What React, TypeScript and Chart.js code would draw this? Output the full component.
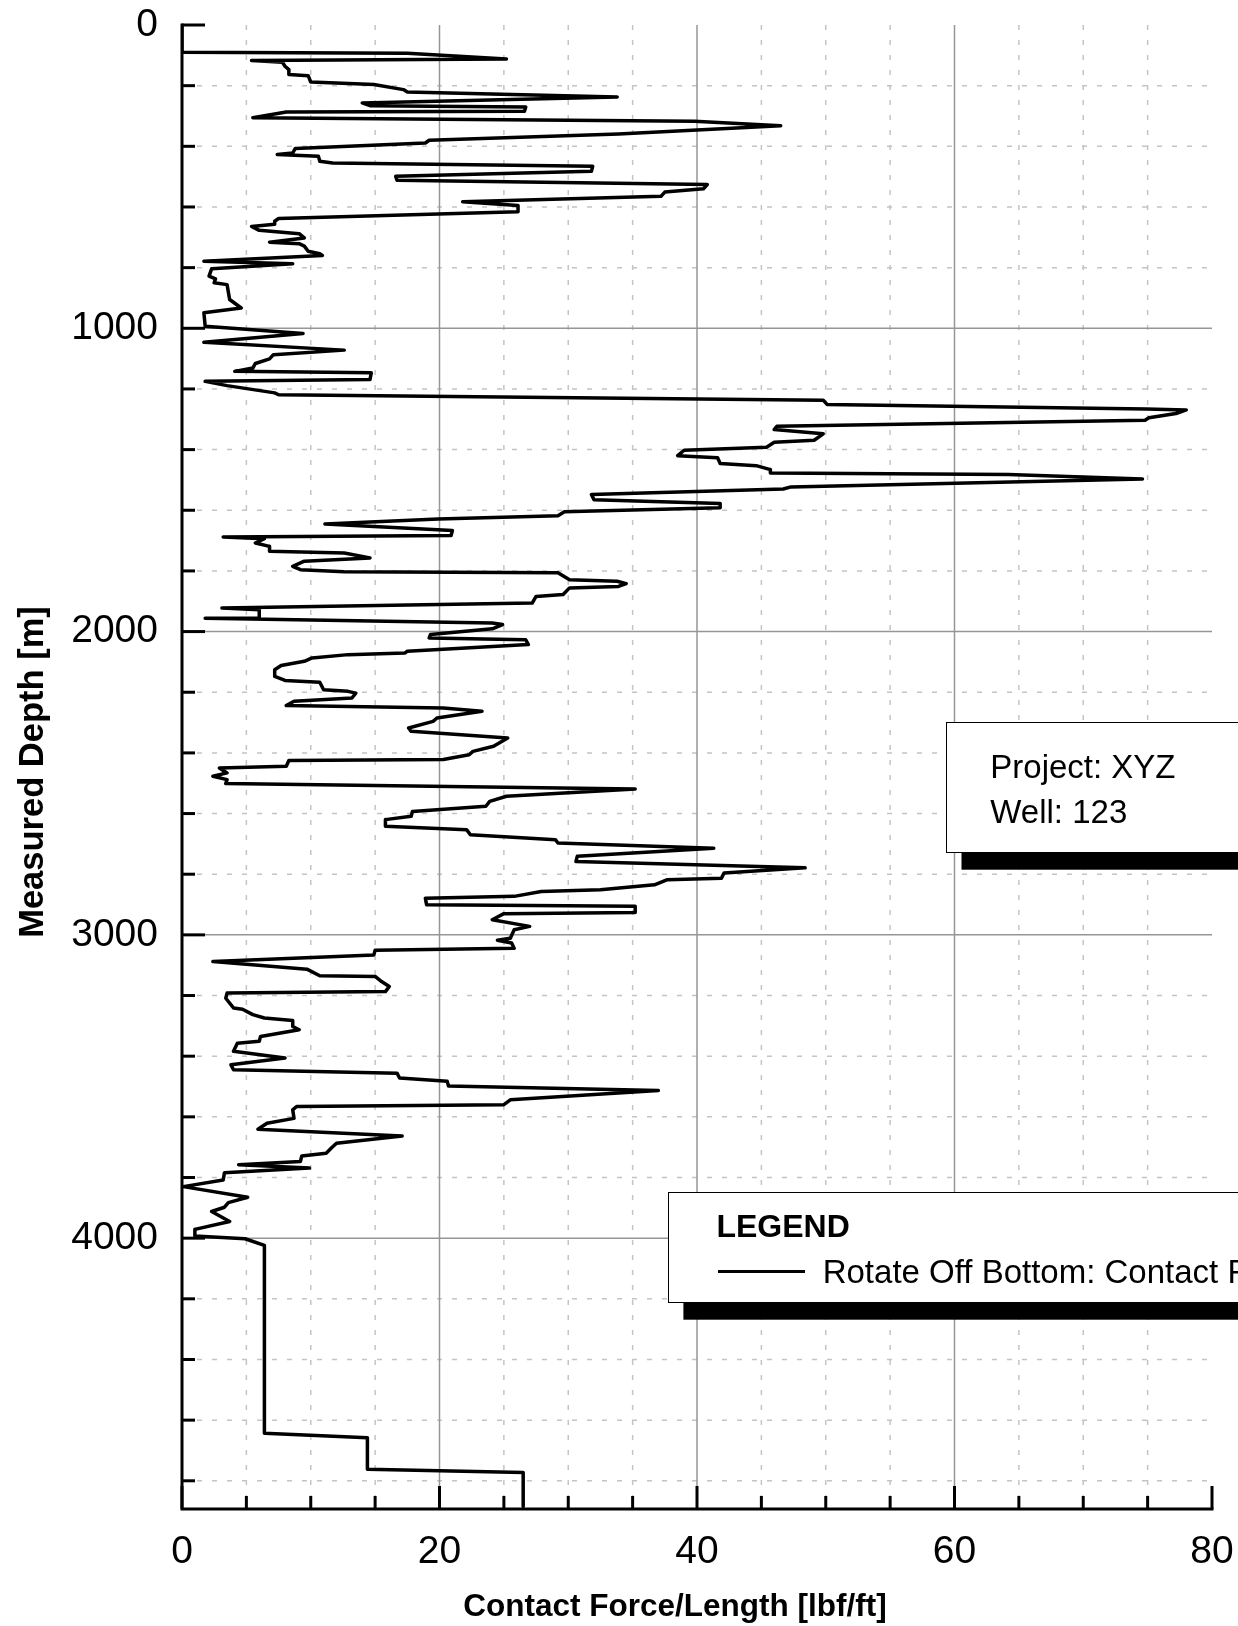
import React, { useEffect, useRef } from "react";
import { Chart, registerables } from "chart.js";

Chart.register(...registerables);

// ---- data ----
const DEPTH_M: number[] = [
  0, 90, 93, 112, 117, 123, 136, 147, 163, 167, 188, 196, 213, 221, 237, 257, 266, 270, 284, 287,
  306, 317, 332, 359, 380, 389, 407, 422, 427, 433, 449, 455, 466, 482, 499, 512, 526, 540, 551, 565,
  583, 595, 616, 638, 647, 657, 664, 677, 688, 702, 716, 721, 729, 746, 754, 760, 779, 787, 804, 828,
  837, 850, 856, 905, 933, 949, 993, 1017, 1046, 1072, 1087, 1101, 1116, 1131, 1142, 1147, 1169, 1175, 1189, 1213,
  1219, 1237, 1251, 1266, 1269, 1281, 1295, 1303, 1323, 1334, 1348, 1369, 1376, 1392, 1402, 1420, 1427, 1446, 1453, 1466,
  1477, 1482, 1497, 1523, 1530, 1548, 1565, 1578, 1592, 1605, 1618, 1629, 1645, 1667, 1683, 1688, 1694, 1708, 1719, 1735,
  1741, 1757, 1768, 1785, 1796, 1803, 1806, 1829, 1834, 1842, 1851, 1856, 1878, 1884, 1906, 1922, 1928, 1955, 1956, 1972,
  1977, 1991, 2010, 2021, 2027, 2043, 2065, 2071, 2076, 2087, 2098, 2112, 2126, 2148, 2161, 2167, 2192, 2197, 2203, 2219,
  2230, 2244, 2252, 2263, 2285, 2296, 2318, 2329, 2351, 2378, 2395, 2406, 2422, 2425, 2444, 2450, 2466, 2477, 2488, 2501,
  2519, 2543, 2560, 2576, 2593, 2609, 2620, 2642, 2653, 2670, 2686, 2697, 2714, 2741, 2758, 2779, 2796, 2813, 2818, 2835,
  2851, 2857, 2873, 2879, 2901, 2906, 2926, 2930, 2950, 2972, 2983, 3011, 3018, 3027, 3044, 3051, 3066, 3088, 3113, 3135,
  3137, 3154, 3170, 3187, 3192, 3209, 3241, 3245, 3263, 3274, 3282, 3302, 3313, 3335, 3351, 3357, 3384, 3406, 3428, 3445,
  3456, 3472, 3483, 3498, 3513, 3544, 3560, 3566, 3577, 3605, 3621, 3641, 3663, 3687, 3703, 3720, 3729, 3747, 3758, 3769,
  3784, 3808, 3830, 3865, 3883, 3898, 3912, 3945, 3971, 3993, 4002, 4024, 4643, 4658, 4762, 4773, 4885,
];

const FORCE_LBF_FT: number[] = [
  0, 0, 17.5, 25.2, 5.4, 7.8, 8.0, 8.3, 8.3, 9.8, 10.0, 14.9, 17.2, 17.5, 33.8, 14.0, 14.6, 26.7, 26.6, 8.1,
  5.5, 39.8, 46.5, 33.9, 19.2, 18.9, 8.8, 8.6, 7.4, 10.6, 10.7, 11.7, 31.9, 31.8, 16.6, 16.7, 40.8, 40.5, 37.5, 37.2,
  21.8, 26.1, 26.1, 7.5, 7.2, 7.2, 5.4, 6.0, 9.1, 9.5, 6.8, 9.1, 9.5, 9.8, 10.7, 10.9, 1.7, 8.6, 2.3, 2.1,
  2.6, 2.5, 3.5, 3.7, 4.6, 1.7, 1.8, 9.4, 1.7, 12.6, 7.1, 6.8, 5.7, 5.5, 4.1, 14.7, 14.6, 1.8, 3.5, 7.2,
  7.5, 49.8, 50.1, 74.9, 78.0, 77.2, 75.1, 74.8, 46.2, 46.0, 49.8, 49.1, 46.0, 45.4, 39.0, 38.5, 41.6, 41.8, 44.6, 45.7,
  45.7, 64.2, 74.6, 47.3, 46.7, 31.8, 32.0, 41.8, 41.8, 29.7, 29.2, 19.9, 11.1, 21.0, 20.9, 3.2, 6.4, 5.7, 6.8, 6.8,
  12.6, 14.6, 9.5, 8.6, 9.2, 12.6, 29.2, 30.1, 33.8, 34.5, 33.9, 30.1, 29.6, 27.5, 27.2, 3.1, 6.0, 6.0, 1.8, 24.1,
  24.9, 24.1, 19.3, 19.2, 26.7, 26.9, 17.5, 17.3, 12.9, 10.1, 9.5, 7.7, 7.2, 7.2, 8.0, 10.7, 11.0, 12.9, 13.5, 13.2,
  8.7, 8.1, 20.3, 23.3, 19.8, 19.5, 17.6, 17.8, 25.3, 24.2, 22.6, 22.3, 20.3, 8.3, 8.1, 2.9, 3.5, 2.4, 3.5, 3.4,
  35.2, 25.2, 23.9, 23.6, 17.9, 17.8, 15.8, 15.8, 22.1, 22.4, 29.0, 29.2, 41.3, 30.7, 30.6, 48.4, 42.1, 41.9, 37.7, 36.7,
  32.5, 27.9, 25.8, 18.9, 19.0, 35.2, 35.2, 25.0, 24.1, 27.0, 25.8, 25.5, 24.5, 25.6, 25.8, 15.0, 14.9, 2.4, 9.7, 10.7,
  15.0, 15.5, 16.1, 15.8, 3.5, 3.4, 4.0, 4.7, 5.5, 6.4, 8.6, 8.6, 9.1, 6.1, 6.0, 4.3, 4.0, 8.0, 3.8, 4.0,
  16.7, 16.9, 20.6, 20.7, 37.0, 25.5, 25.0, 8.9, 8.6, 8.7, 6.6, 5.9, 17.1, 12.0, 11.6, 11.2, 9.3, 9.2, 4.4, 9.9,
  3.3, 3.2, 0.1, 5.1, 3.6, 3.3, 2.3, 3.7, 1.0, 1.0, 4.9, 6.4, 6.4, 14.4, 14.4, 26.5, 26.5,
];

const X_TICKS: number[] = [0, 20, 40, 60, 80];
const Y_TICKS: number[] = [0, 1000, 2000, 3000, 4000];
const X_MINOR_STEP = 5;
const Y_MINOR_STEP = 200;
const X_MAX = 80;
const Y_MAX = 4893;

const X_TITLE = "Contact Force/Length [lbf/ft]";
const Y_TITLE = "Measured Depth [m]";
const INFO_LINES: string[] = ["Project: XYZ", "Well: 123"];
const LEGEND_TITLE = "LEGEND";
const SERIES_LABEL = "Rotate Off Bottom: Contact Force/Length";

const FONT = '"Liberation Sans", Arial, Helvetica, sans-serif';
const W = 1238;
const H = 1626;

const framePlugin = {
  id: "wellFrame",
  beforeDatasetsDraw(chart: any) {
    const { ctx } = chart;
    const x = chart.scales.x;
    const y = chart.scales.y;
    const left = x.getPixelForValue(0);
    const right = x.getPixelForValue(X_MAX);
    const top = y.getPixelForValue(0);
    const bottom = y.getPixelForValue(Y_MAX);
    ctx.save();
    ctx.setLineDash([5, 10]);
    ctx.strokeStyle = "#c4c4c4";
    ctx.lineWidth = 1.5;
    for (let v = X_MINOR_STEP; v < X_MAX; v += X_MINOR_STEP) {
      if (X_TICKS.includes(v)) continue;
      const px = x.getPixelForValue(v);
      ctx.beginPath();
      ctx.moveTo(px, top);
      ctx.lineTo(px, bottom);
      ctx.stroke();
    }
    for (let d = Y_MINOR_STEP; d < Y_MAX; d += Y_MINOR_STEP) {
      if (Y_TICKS.includes(d)) continue;
      const py = y.getPixelForValue(d);
      ctx.beginPath();
      ctx.moveTo(left, py);
      ctx.lineTo(right, py);
      ctx.stroke();
    }
    ctx.setLineDash([]);
    ctx.strokeStyle = "#969696";
    ctx.lineWidth = 1.5;
    for (const v of X_TICKS) {
      if (v === 0 || v === X_MAX) continue;
      const px = x.getPixelForValue(v);
      ctx.beginPath();
      ctx.moveTo(px, top);
      ctx.lineTo(px, bottom);
      ctx.stroke();
    }
    for (const d of Y_TICKS) {
      if (d === 0) continue;
      const py = y.getPixelForValue(d);
      ctx.beginPath();
      ctx.moveTo(left, py);
      ctx.lineTo(right, py);
      ctx.stroke();
    }
    ctx.restore();
  },
  afterDatasetsDraw(chart: any) {
    const { ctx } = chart;
    const x = chart.scales.x;
    const y = chart.scales.y;
    const left = x.getPixelForValue(0);
    const right = x.getPixelForValue(X_MAX);
    const top = y.getPixelForValue(0);
    const bottom = y.getPixelForValue(Y_MAX);
    ctx.save();
    ctx.strokeStyle = "#000";
    ctx.lineWidth = 3;
    ctx.lineCap = "butt";
    ctx.beginPath();
    ctx.moveTo(left, top - 1.5);
    ctx.lineTo(left, bottom + 1.5);
    ctx.moveTo(left - 1.5, bottom);
    ctx.lineTo(right + 1.5, bottom);
    ctx.stroke();
    for (let d = 0; d < Y_MAX; d += Y_MINOR_STEP) {
      const len = Y_TICKS.includes(d) ? 23 : 13;
      const py = y.getPixelForValue(d);
      ctx.beginPath();
      ctx.moveTo(left, py);
      ctx.lineTo(left + len, py);
      ctx.stroke();
    }
    for (let v = 0; v <= X_MAX; v += X_MINOR_STEP) {
      const len = X_TICKS.includes(v) ? 23 : 13;
      const px = x.getPixelForValue(v);
      ctx.beginPath();
      ctx.moveTo(px, bottom);
      ctx.lineTo(px, bottom - len);
      ctx.stroke();
    }
    ctx.restore();
  },
  afterDraw(chart: any) {
    const { ctx } = chart;
    ctx.save();
    ctx.fillStyle = "#000";
    ctx.textAlign = "center";
    ctx.textBaseline = "alphabetic";
    ctx.font = `bold 31.5px ${FONT}`;
    ctx.fillText(X_TITLE, 675, 1616);
    ctx.font = `bold 34.5px ${FONT}`;
    ctx.translate(43, 772);
    ctx.rotate(-Math.PI / 2);
    ctx.fillText(Y_TITLE, 0, 0);
    ctx.restore();
  },
};

const zeroPad = (s: any) => {
  s.paddingTop = 0;
  s.paddingBottom = 0;
  s.paddingLeft = 0;
  s.paddingRight = 0;
};

export default function App() {
  const canvasRef = useRef<HTMLCanvasElement | null>(null);

  useEffect(() => {
    const canvas = canvasRef.current;
    if (!canvas) return;
    const points = DEPTH_M.map((d, i) => ({ x: FORCE_LBF_FT[i], y: d }));
    const tickFont = { family: FONT, size: 39 };
    const chart = new Chart(canvas, {
      type: "scatter",
      data: {
        datasets: [
          {
            label: SERIES_LABEL,
            data: points,
            showLine: true,
            borderColor: "#000",
            backgroundColor: "#000",
            borderWidth: 3.5,
            pointRadius: 0,
            pointHoverRadius: 0,
            tension: 0,
            fill: false,
            borderJoinStyle: "round",
            borderCapStyle: "round",
          } as any,
        ],
      },
      options: {
        animation: false,
        responsive: false,
        maintainAspectRatio: false,
        events: [],
        layout: { padding: { top: 25, right: 26, left: 0, bottom: 0 } },
        plugins: {
          legend: { display: false },
          tooltip: { enabled: false },
          title: { display: false },
        },
        scales: {
          x: {
            type: "linear",
            position: "bottom",
            min: 0,
            max: X_MAX,
            afterFit: (s: any) => {
              s.height = 117;
              zeroPad(s);
            },
            afterBuildTicks: (s: any) => {
              s.ticks = X_TICKS.map((v) => ({ value: v }));
            },
            ticks: {
              font: tickFont,
              color: "#000",
              padding: 20,
              maxRotation: 0,
              autoSkip: false,
              callback: (v: any) => String(v),
            },
            grid: { display: false, drawTicks: false },
            border: { display: false },
          },
          y: {
            type: "linear",
            position: "left",
            reverse: true,
            min: 0,
            max: Y_MAX,
            afterFit: (s: any) => {
              s.width = 182;
              zeroPad(s);
            },
            afterBuildTicks: (s: any) => {
              s.ticks = Y_TICKS.map((v) => ({ value: v }));
            },
            ticks: {
              font: tickFont,
              color: "#000",
              padding: 24,
              autoSkip: false,
              callback: (v: any) => String(v),
            },
            grid: { display: false, drawTicks: false },
            border: { display: false },
          },
        },
      } as any,
      plugins: [framePlugin],
    });
    return () => chart.destroy();
  }, []);

  const boxText: React.CSSProperties = {
    position: "absolute",
    fontFamily: FONT,
    fontSize: 33,
    lineHeight: "45px",
    whiteSpace: "nowrap",
    color: "#000",
  };

  return (
    <div
      style={{
        position: "absolute",
        left: 0,
        top: 0,
        width: W,
        height: H,
        overflow: "hidden",
        background: "#fff",
      }}
    >
      <canvas ref={canvasRef} width={W} height={H} style={{ display: "block", width: W, height: H }} />
      <div
        style={{
          position: "absolute",
          left: 945.8,
          top: 721.7,
          width: 600,
          height: 131.6,
          boxSizing: "border-box",
          border: "1.5px solid #000",
          background: "#fff",
          boxShadow: "15.5px 16.7px 0 #000",
        }}
      >
        {INFO_LINES.map((t, i) => (
          <div key={i} style={{ ...boxText, left: 43.5, top: 21.2 + i * 45 }}>
            {t}
          </div>
        ))}
      </div>
      <div
        style={{
          position: "absolute",
          left: 668,
          top: 1191.7,
          width: 700,
          height: 111.6,
          boxSizing: "border-box",
          border: "1.5px solid #000",
          background: "#fff",
          boxShadow: "15.4px 16.7px 0 #000",
        }}
      >
        <div style={{ ...boxText, fontSize: 32, fontWeight: "bold", left: 47.4, top: 11.5 }}>{LEGEND_TITLE}</div>
        <div
          style={{
            position: "absolute",
            left: 48.5,
            top: 77,
            width: 87.5,
            height: 3,
            background: "#000",
          }}
        />
        <div style={{ ...boxText, left: 153.7, top: 56.2 }}>{SERIES_LABEL}</div>
      </div>
    </div>
  );
}
